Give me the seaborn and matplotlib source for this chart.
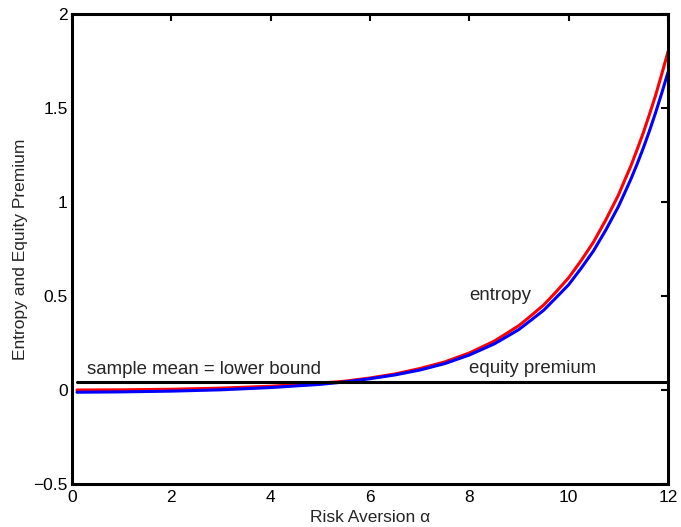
import matplotlib
matplotlib.use("Agg")
import matplotlib.pyplot as plt
import seaborn as sns
import pandas as pd

# ---- data ----
alpha = [0.1, 1, 2, 3, 4, 5, 5.5, 6, 6.5, 7, 7.5, 8, 8.5, 8.75, 9, 9.25,
         9.5, 9.75, 10, 10.25, 10.5, 10.75, 11, 11.125, 11.25, 11.375, 11.5,
         11.625, 11.75, 11.875, 12]
entropy = [0.000, 0.001, 0.004, 0.010, 0.020, 0.036, 0.047, 0.064, 0.085,
           0.114, 0.149, 0.197, 0.260, 0.301, 0.343, 0.397, 0.453, 0.523,
           0.597, 0.688, 0.787, 0.906, 1.036, 1.114, 1.190, 1.277, 1.366,
           1.465, 1.567, 1.681, 1.800]
equity_premium = [-0.012, -0.010, -0.006, 0.001, 0.013, 0.030, 0.043, 0.060,
                  0.080, 0.106, 0.140, 0.186, 0.245, 0.283, 0.322, 0.373,
                  0.425, 0.492, 0.560, 0.647, 0.740, 0.852, 0.975, 1.047,
                  1.120, 1.200, 1.285, 1.377, 1.475, 1.580, 1.690]
mean_x = [0.1, 12]
sample_mean = [0.04, 0.04]

xticks = [0, 2, 4, 6, 8, 10, 12]
yticks = [-0.5, 0, 0.5, 1, 1.5, 2]

df = pd.DataFrame({"alpha": alpha, "entropy": entropy,
                   "equity": equity_premium})
dm = pd.DataFrame({"alpha": mean_x, "mean": sample_mean})

sns.set_style("white")
plt.rcParams["font.family"] = ["Liberation Sans", "DejaVu Sans"]
plt.rcParams["axes.unicode_minus"] = True

fig = plt.figure(figsize=(6.81, 5.27), dpi=100)
ax = fig.add_axes([72 / 681, 1 - 484 / 527, 596 / 681, 470 / 527])

sns.lineplot(data=df, x="alpha", y="entropy", color="#ff0000", lw=2.2, ax=ax)
sns.lineplot(data=df, x="alpha", y="equity", color="#0000ff", lw=2.2, ax=ax)
sns.lineplot(data=dm, x="alpha", y="mean", color="black", lw=2.2, ax=ax)

ax.set_xlim(0, 12)
ax.set_ylim(-0.5, 2)
ax.set_xticks(xticks)
ax.set_yticks(yticks)
ax.set_xticklabels([str(t) for t in xticks])
ax.set_yticklabels(["\u22120.5", "0", "0.5", "1", "1.5", "2"])

for s in ax.spines.values():
    s.set_linewidth(2.2)
    s.set_color("black")
    s.set_visible(True)
ax.tick_params(direction="in", length=5, width=1.5, top=True, right=True,
               labelsize=12.5, colors="black")
ax.tick_params(axis="x", pad=4)
ax.tick_params(axis="y", pad=3)

ax.set_xlabel("Risk Aversion \u03b1", fontsize=12.5, labelpad=4)
ax.set_ylabel("Entropy and Equity Premium", fontsize=12.5, labelpad=4)

ax.text(0.3, 0.11, "sample mean = lower bound", fontsize=13.4, va="center",
        ha="left")
ax.text(8.0, 0.50, "entropy", fontsize=13.4, va="center", ha="left")
ax.text(8.0, 0.115, "equity premium", fontsize=13.4, va="center", ha="left")

fig.savefig("out.png", dpi=100)
